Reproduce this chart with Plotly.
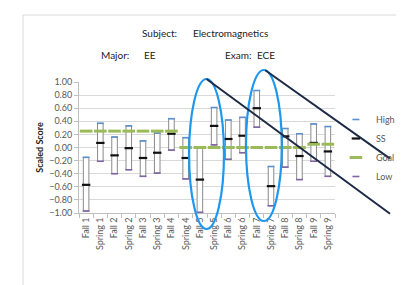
import numpy as np
import plotly.graph_objects as go

# ---- data ----
categories = ["Fall 1", "Spring 1", "Fall 2", "Spring 2", "Fall 3", "Spring 3",
              "Fall 4", "Spring 4", "Fall 5", "Spring 5", "Fall 6", "Spring 6",
              "Fall 7", "Spring 7", "Fall 8", "Spring 8", "Fall 9", "Spring 9"]
high = [-0.15, 0.37, 0.16, 0.33, 0.10, 0.22, 0.44, 0.15, 0.01, 0.61, 0.42, 0.46,
        0.87, -0.29, 0.29, 0.21, 0.36, 0.32]
ss = [-0.57, 0.07, -0.12, -0.01, -0.16, -0.08, 0.21, -0.16, -0.49, 0.33, 0.13, 0.18,
      0.60, -0.59, 0.17, -0.13, 0.07, -0.06]
low = [-0.97, -0.21, -0.40, -0.34, -0.44, -0.39, -0.04, -0.48, -0.99, 0.04, -0.18, -0.08,
       0.31, -0.89, -0.30, -0.49, -0.21, -0.44]
goal = [0.25, 0.25, 0.25, 0.25, 0.25, 0.25, 0.25, 0.00, 0.00, 0.00, 0.00, 0.00,
        0.00, 0.00, 0.00, 0.00, 0.05, 0.05]
y_ticks = [-1.0, -0.8, -0.6, -0.4, -0.2, 0.0, 0.2, 0.4, 0.6, 0.8, 1.0]

# ---- layout geometry (pixels) ----
W, H = 404, 285
L, R, T, B = 71, 350, 74, 205


def fx(px):
    return (px - L) / (R - L)


def fy(py):
    return (B - py) / (B - T)


FONT = "Lato, 'Liberation Sans', sans-serif"
TICK_COLOR = "#595959"

fig = go.Figure()

span = (np.array(high) - np.array(low)).tolist()
fig.add_trace(go.Bar(
    x=categories, y=span, base=low, width=0.39,
    marker=dict(color="white", line=dict(color="#8a8a8a", width=1)),
    showlegend=False, hoverinfo="skip",
))

fig.add_trace(go.Scatter(
    x=categories, y=high, mode="markers", name="High",
    marker=dict(symbol="line-ew", size=5, line=dict(color="#5b8fd0", width=1.6)),
))
fig.add_trace(go.Scatter(
    x=categories, y=ss, mode="markers", name="SS",
    marker=dict(symbol="line-ew", size=6, line=dict(color="#111111", width=2.2)),
))
fig.add_trace(go.Scatter(
    x=categories, y=goal, mode="markers", name="Goal",
    marker=dict(symbol="line-ew", size=9, line=dict(color="#9bbb59", width=3)),
))
fig.add_trace(go.Scatter(
    x=categories, y=low, mode="markers", name="Low",
    marker=dict(symbol="line-ew", size=5, line=dict(color="#8064a2", width=1.6)),
))

shapes = [
    # chart frame
    dict(type="rect", xref="paper", yref="paper",
         x0=fx(10), x1=fx(430), y0=fy(7), y1=fy(310),
         line=dict(color="#d9d9d9", width=1), layer="below"),
    # ellipses
    dict(type="circle", xref="paper", yref="paper",
         x0=fx(191), x1=fx(229), y0=fy(71), y1=fy(221),
         line=dict(color="#1e98ee", width=2.2), layer="above"),
    dict(type="circle", xref="paper", yref="paper",
         x0=fx(253), x1=fx(292), y0=fy(62), y1=fy(213),
         line=dict(color="#1e98ee", width=2.2), layer="above"),
    # dark diagonal lines
    dict(type="line", xref="paper", yref="paper",
         x0=fx(210), y0=fy(71), x1=fx(410), y1=fy(205.8),
         line=dict(color="#1c2a45", width=2), layer="above"),
    dict(type="line", xref="paper", yref="paper",
         x0=fx(274), y0=fy(62.3), x1=fx(410), y1=fy(150.6),
         line=dict(color="#1c2a45", width=2), layer="above"),
]

ann_font = dict(family=FONT, size=10, color="#222222")
texts = [
    ("Subject:", 138, 25), ("Electromagnetics", 193, 25),
    ("Major:", 93, 47), ("EE", 140, 47),
    ("Exam:", 228, 47), ("ECE", 263, 47),
]
annotations = [
    dict(text=t, x=fx(px), y=fy(py), xref="paper", yref="paper",
         xanchor="left", yanchor="middle", showarrow=False, font=ann_font)
    for t, px, py in texts
]

fig.update_layout(
    width=W, height=H,
    margin=dict(l=L, r=W - R, t=T, b=H - B, pad=0),
    paper_bgcolor="white", plot_bgcolor="white",
    font=dict(family=FONT, size=9, color=TICK_COLOR),
    barmode="overlay",
    shapes=shapes,
    annotations=annotations,
    showlegend=True,
    legend=dict(x=fx(351), y=fy(97), xanchor="left", yanchor="top",
                font=dict(family=FONT, size=9, color=TICK_COLOR),
                bgcolor="rgba(0,0,0,0)", borderwidth=0,
                tracegroupgap=0),
    xaxis=dict(type="category", categoryorder="array", categoryarray=categories,
               range=[-0.5, len(categories) - 0.5],
               tickangle=-90, tickson="boundaries", ticks="outside", ticklen=4,
               tickcolor="#bfbfbf", showline=True, linecolor="#bfbfbf",
               showgrid=False, tickfont=dict(family=FONT, size=9, color=TICK_COLOR)),
    yaxis=dict(range=[-1, 1], tickvals=y_ticks, tickformat=".2f",
               ticks="outside", ticklen=4, tickcolor="#bfbfbf",
               showline=True, linecolor="#bfbfbf",
               showgrid=True, gridcolor="#d9d9d9", zeroline=False,
               tickfont=dict(family=FONT, size=9, color=TICK_COLOR),
               title=dict(text="<b>Scaled Score</b>", standoff=4,
                          font=dict(family=FONT, size=9, color="#222222"))),
)

fig.write_html("out.html")
